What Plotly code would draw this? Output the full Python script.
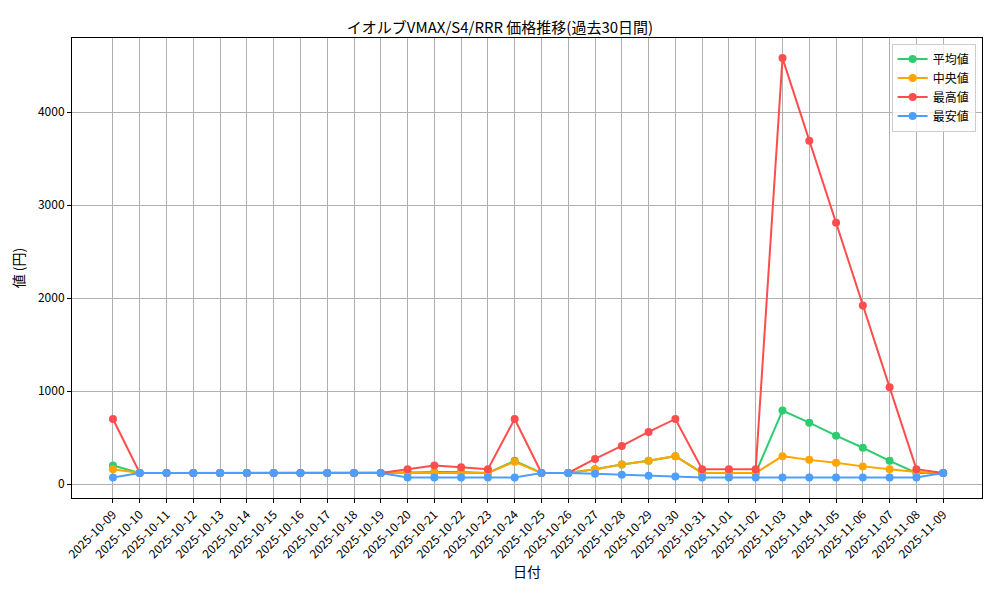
import plotly.graph_objects as go
import pandas as pd

dates = [d.strftime("%Y-%m-%d") for d in pd.date_range("2025-10-09", "2025-11-09")]

avg_vals = [200, 120, 120, 120, 120, 120, 120, 120, 120, 120, 120,
            125, 130, 130, 120, 250, 120, 120, 160, 210, 250, 300,
            120, 120, 120, 790, 660, 520, 390, 250, 120, 120]
median_vals = [160, 120, 120, 120, 120, 120, 120, 120, 120, 120, 120,
               120, 125, 125, 120, 240, 120, 120, 160, 210, 250, 300,
               120, 120, 120, 300, 260, 230, 190, 160, 130, 120]
max_vals = [700, 120, 120, 120, 120, 120, 120, 120, 120, 120, 120,
            160, 200, 180, 160, 700, 120, 120, 270, 410, 560, 700,
            160, 160, 160, 4580, 3690, 2810, 1920, 1040, 160, 120]
min_vals = [70, 120, 120, 120, 120, 120, 120, 120, 120, 120, 120,
            70, 70, 70, 70, 70, 120, 120, 110, 100, 90, 80,
            70, 70, 70, 70, 70, 70, 70, 70, 70, 120]

series = [
    ("平均値", avg_vals, "#2ecc71"),
    ("中央値", median_vals, "#ffa500"),
    ("最高値", max_vals, "#ff4d4d"),
    ("最安値", min_vals, "#4d9fff"),
]

fig = go.Figure()
for name, vals, color in series:
    fig.add_trace(go.Scatter(
        x=dates, y=vals, name=name, mode="lines+markers",
        line=dict(color=color, width=2),
        marker=dict(color=color, size=8),
    ))

axis_common = dict(
    showgrid=True, gridcolor="#b0b0b0", gridwidth=1,
    showline=True, linecolor="black", linewidth=1, mirror=True,
    ticks="outside", ticklen=4, tickcolor="black", zeroline=False,
    automargin=False,
)

# page body has an 8px margin, so the figure is sized and offset to compensate
fig.update_layout(
    width=984, height=584,
    plot_bgcolor="white", paper_bgcolor="white",
    font=dict(family="Noto Sans CJK JP", size=12, color="black"),
    title=dict(text="イオルブVMAX/S4/RRR 価格推移(過去30日間)", x=0.5, xanchor="center",
               y=0.975, font=dict(size=15)),
    margin=dict(l=64, r=10, t=30, b=94),
    xaxis=dict(type="category", range=[-1.53, 32.45], tickangle=-45,
               title=dict(text="日付", standoff=6), **axis_common),
    yaxis=dict(range=[-150, 4796], tickvals=[0, 1000, 2000, 3000, 4000],
               title=dict(text="値 (円)", standoff=10), **axis_common),
    legend=dict(x=0.993, y=0.988, xanchor="right", yanchor="top",
                bordercolor="#cccccc", borderwidth=1, bgcolor="rgba(255,255,255,0.8)"),
    showlegend=True,
)

fig.write_html("out.html")
